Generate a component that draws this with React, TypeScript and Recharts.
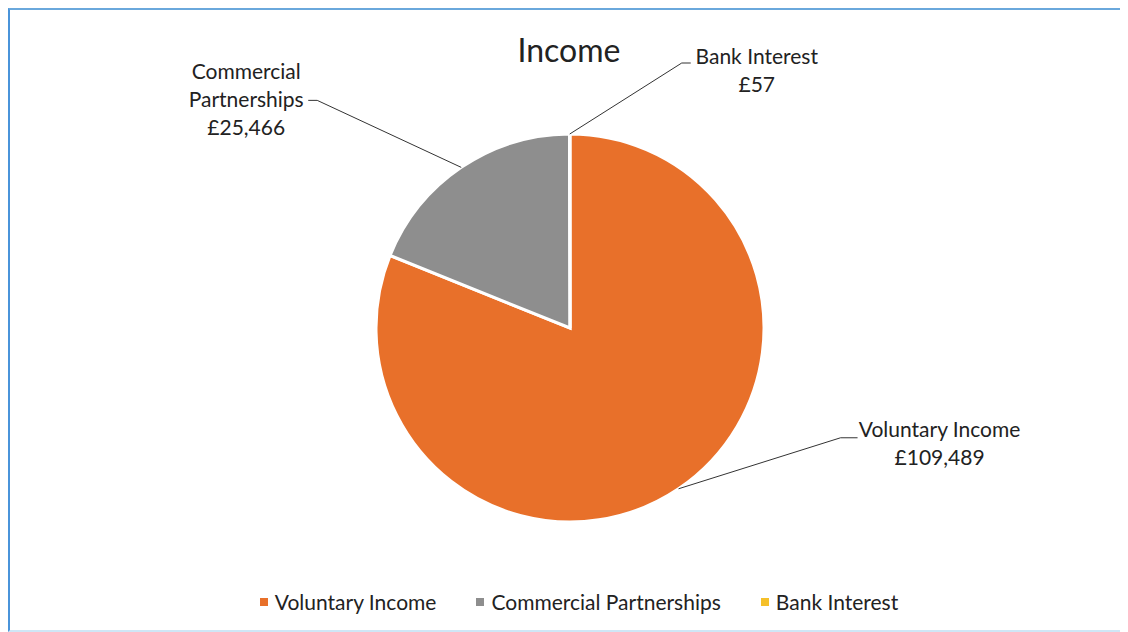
import React from "react";
import { PieChart, Pie, Cell, Legend } from "recharts";

const categories = ["Voluntary Income", "Commercial Partnerships", "Bank Interest"];
const values = [109489, 25466, 57];
const valueLabels = ["£109,489", "£25,466", "£57"];
const labelLines = [["Voluntary Income"], ["Commercial", "Partnerships"], ["Bank Interest"]];
const colors = ["#E8702A", "#8E8E8E", "#F5C02A"];

const data = categories.map((name, i) => ({ name, value: values[i] }));

// label layout: elbow offset from slice edge point, tail length, text center offset from tail end
const LABEL_LAYOUT = [
  { ex: 162, ey: -51, tail: 17, tx: 82, ty: -9 },
  { ex: -144, ey: -67, tail: -9, tx: -62, ty: -30 },
  { ex: 112, ey: -71, tail: 9, tx: 66, ty: -8 },
];

const FONT = "Lato, 'Open Sans', sans-serif";
const RAD = Math.PI / 180;

const renderLabel = (props: any) => {
  const { cx, cy, midAngle, outerRadius, index } = props;
  const x0 = cx + outerRadius * Math.cos(-midAngle * RAD);
  const y0 = cy + outerRadius * Math.sin(-midAngle * RAD);
  const L = LABEL_LAYOUT[index];
  const x1 = x0 + L.ex;
  const y1 = y0 + L.ey;
  const x2 = x1 + L.tail;
  const tcx = x2 + L.tx;
  const lines = [...labelLines[index], valueLabels[index]];
  return (
    <g key={`lbl-${index}`}>
      <polyline points={`${x0},${y0} ${x1},${y1} ${x2},${y1}`} fill="none" stroke="#333" strokeWidth={1} />
      {lines.map((t, k) => (
        <text
          key={k}
          x={tcx}
          y={y1 + L.ty + k * 28}
          textAnchor="middle"
          dominantBaseline="central"
          fontFamily={FONT}
          fontSize={21}
          fill="#222"
        >
          {t}
        </text>
      ))}
    </g>
  );
};

const renderLegend = () => (
  <div
    style={{
      display: "flex",
      justifyContent: "center",
      alignItems: "center",
      fontFamily: FONT,
      fontSize: 21,
      color: "#222",
      gap: 40,
      paddingLeft: 20,
    }}
  >
    {categories.map((c, i) => (
      <div key={c} style={{ display: "flex", alignItems: "center" }}>
        <span style={{ width: 8, height: 8, background: colors[i], display: "inline-block", marginRight: 7 }} />
        <span>{c}</span>
      </div>
    ))}
  </div>
);

export default function App() {
  return (
    <div
      style={{
        width: 1118,
        height: 620,
        borderLeft: "2px solid #4A94DA",
        borderTop: "2px solid #6AA8DC",
        borderBottom: "2px solid #CFE6F6",
        position: "relative",
        background: "#fff",
      }}
    >
      <div
        style={{
          position: "absolute",
          left: 0,
          top: 20,
          width: "100%",
          textAlign: "center",
          fontFamily: FONT,
          fontSize: 32,
          color: "#222",
        }}
      >
        Income
      </div>
      <PieChart width={1118} height={620}>
        <Pie
          data={data}
          dataKey="value"
          nameKey="name"
          cx={555}
          cy={313}
          outerRadius={194}
          startAngle={90}
          endAngle={-270}
          stroke="#fff"
          strokeWidth={3}
          label={renderLabel}
          labelLine={false}
          isAnimationActive={false}
        >
          {data.map((d, i) => (
            <Cell key={d.name} fill={colors[i]} />
          ))}
        </Pie>
        <Legend verticalAlign="bottom" content={renderLegend} wrapperStyle={{ bottom: 16 }} />
      </PieChart>
    </div>
  );
}
